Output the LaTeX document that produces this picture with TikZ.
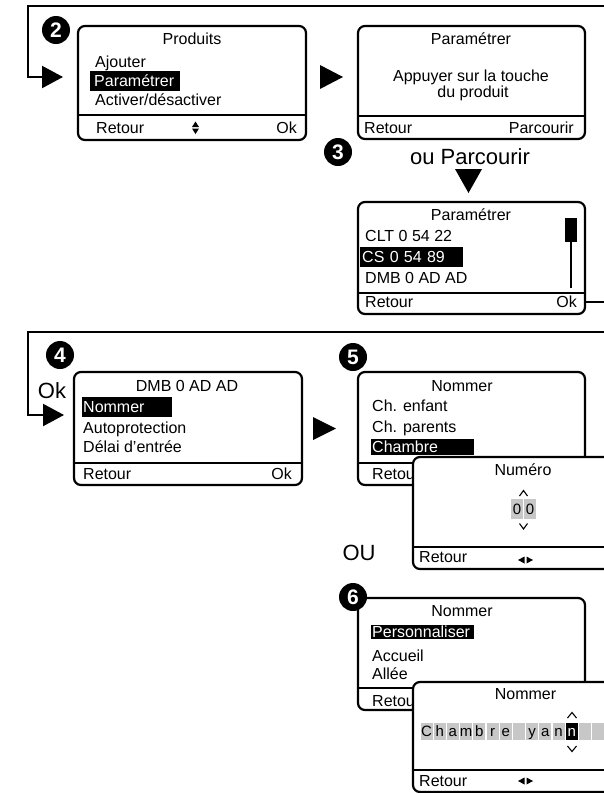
\documentclass[tikz,border=0pt]{standalone}
\usepackage{fontspec}
\setmainfont{Liberation Sans}
\usetikzlibrary{arrows.meta}
\newcommand\myfs{\fontsize{16}{19}\selectfont}
\begin{document}
\begin{tikzpicture}[x=1pt,y=-1pt,
  scr/.style={draw=black, line width=2.2pt, rounded corners=7pt, fill=white, inner sep=0pt, outer sep=0pt},
  line/.style={line width=2.2pt},
  txt/.style={inner sep=0pt, text height=11.5pt, text depth=0pt, font=\myfs},
  lt/.style={txt, anchor=west},
  rt/.style={txt, anchor=east},
  ct/.style={txt, anchor=center},
  hl/.style={txt, anchor=west, fill=black, text=white, align=left, inner ysep=4.25pt},
  badge/.style={circle, fill=black, text=white, minimum size=28pt, inner sep=0pt, font=\bfseries\fontsize{21}{21}\selectfont},
  big/.style={inner sep=0pt, text height=15.5pt, text depth=0pt, font=\fontsize{22}{24}\selectfont},
  tip/.style={-{Triangle[length=21pt,width=22pt]}},
  cell/.style={fill=black!22, minimum width=12pt, minimum height=17pt, inner sep=0pt, text height=10.8pt, text depth=0pt, font=\fontsize{15}{17}\selectfont},
  chev/.style={line width=1.1pt},
]
\useasboundingbox (0,0) rectangle (604,793);
\clip (0,0) rectangle (604,793);

% ---------- step 2 ----------
\coordinate (in2) at (612,6);
\coordinate (tip2) at (63,77);
\draw[line, tip] (in2) -| (28,77) -- (tip2);

\node[scr, minimum width=228pt, minimum height=114pt] (b1) at (192,83) {};
\draw[line] (b1.west |- 0,115) -- (b1.east |- 0,115);
\node[ct] (b1t) at (192,39) {Produits};
\node[lt] (b1a) at (95,62) {Ajouter};
\node[hl, inner xsep=4pt, text width=82pt] (b1b) at (90,81) {Paramétrer};
\node[lt] (b1c) at (95,100) {Activer/désactiver};
\node[lt] (b1r) at (96,128) {Retour};
\node[rt] (b1o) at (297,128) {Ok};
\fill (192,127) -- (195.5,121.5) -- (199,127) -- cycle;
\fill (192,128.5) -- (199,128.5) -- (195.5,134) -- cycle;

\fill (320,65) -- (343,77) -- (320,89) -- cycle;

\node[scr, minimum width=227pt, minimum height=113pt] (b2) at (471.5,82.5) {};
\draw[line] (b2.west |- 0,116) -- (b2.east |- 0,116);
\node[ct] (b2t) at (471,39) {Paramétrer};
\node[ct] (b2a) at (471,76) {Appuyer sur la touche};
\node[ct] (b2b) at (473,92) {du produit};
\node[lt] (b2r) at (364,128) {Retour};
\node[rt] (b2o) at (574,128) {Parcourir};

% ---------- step 3 ----------
\node[big] (oup) at (470,157) {ou Parcourir};
\fill (455,169) -- (482,169) -- (468.5,193) -- cycle;

\node[scr, minimum width=227pt, minimum height=112pt] (b3) at (471.5,258) {};
\draw[line] (b3.west |- 0,293) -- (b3.east |- 0,293);
\node[ct] (b3t) at (471,215) {Paramétrer};
\node[lt] (b3a) at (365,236) {CLT 0 54 22};
\node[hl, inner xsep=2pt, text width=99pt] (b3b) at (360,257) {CS 0 54 89};
\node[lt] (b3c) at (365,277.5) {DMB 0 AD AD};
\node[lt] (b3r) at (365,302) {Retour};
\node[rt] (b3o) at (577,302) {Ok};
\fill (565,218) rectangle (577,242);
\draw[line] (571,242) -- (571,288);
\coordinate (out3) at (612,302);
\draw[line] (b3.east |- 0,302) -- (out3);

% ---------- step 4 ----------
\coordinate (in4) at (612,332);
\coordinate (tip4) at (64,415);
\draw[line, tip] (in4) -| (28,415) -- (tip4);
\node[big] (okl) at (52,391) {Ok};

\node[scr, minimum width=228pt, minimum height=113pt] (b4) at (188,428.5) {};
\draw[line] (b4.west |- 0,463) -- (b4.east |- 0,463);
\node[ct] (b4t) at (187,386) {DMB 0 AD AD};
\node[hl, inner xsep=1pt, text width=88pt] (b4a) at (82,407) {Nommer};
\node[lt] (b4b) at (83,428) {Autoprotection};
\node[lt] (b4c) at (83,447) {Délai d’entrée};
\node[lt] (b4r) at (83,474) {Retour};
\node[rt] (b4o) at (292,474) {Ok};

\fill (313,417) -- (336,428.5) -- (313,440) -- cycle;

% ---------- step 5 ----------
\node[scr, minimum width=227pt, minimum height=113pt] (b5) at (471.5,428.5) {};
\draw[line] (b5.west |- 0,463) -- (b5.east |- 0,463);
\node[ct] (b5t) at (462,386) {Nommer};
\node[lt] (b5a) at (372,406) {Ch. enfant};
\node[lt] (b5b) at (372,426.5) {Ch. parents};
\node[hl, inner xsep=1pt, inner ysep=2.25pt, text width=101pt] (b5c) at (371,447) {Chambre};
\node[lt] (b5r) at (372,474) {Retour};

\node[scr, minimum width=227pt, minimum height=112pt] (b6) at (526.5,513) {};
\draw[line] (b6.west |- 0,547) -- (612,547);
\node[ct] (b6t) at (523,470) {Numéro};
\node[cell, minimum height=20pt] (n1) at (517,509) {0};
\node[cell, minimum height=20pt] (n2) at (530,509) {0};
\draw[chev] (519.5,496) -- (523.5,490.5) -- (527.5,496);
\draw[chev] (519.5,523.5) -- (523.5,529) -- (527.5,523.5);
\node[lt] (b6r) at (419,557) {Retour};
\fill (518,560) -- (524.5,556.5) -- (524.5,563.5) -- cycle;
\fill (526.5,556.5) -- (533,560) -- (526.5,563.5) -- cycle;

\node[big] (ou) at (359,553) {OU};

% ---------- step 6 ----------
\node[scr, minimum width=227pt, minimum height=112pt] (b7) at (471.5,654) {};
\draw[line] (b7.west |- 0,688) -- (b7.east |- 0,688);
\node[ct] (b7t) at (462,611) {Nommer};
\node[hl, inner xsep=1pt, inner ysep=1.5pt, text width=101pt] (b7a) at (371,632) {Personnaliser};
\node[lt] (b7b) at (372,656) {Accueil};
\node[lt] (b7c) at (372,673.5) {Allée};
\node[lt] (b7r) at (372,701) {Retour};

\node[scr, minimum width=227pt, minimum height=110pt] (b8) at (526.5,737) {};
\draw[line] (b8.west |- 0,770) -- (612,770);
\node[ct] (b8t) at (525.5,694) {Nommer};
\foreach \c [count=\i from 0] in {C,h,a,m,b,r,e,{},y,a,n} {
  \node[cell] (c\i) at (426.5+13.2*\i,731.5) {\c};
}
\node[cell, fill=black, text=white] (c11) at (571.7,731.5) {n};
\node[cell] (c12) at (584.9,731.5) {};
\node[cell] (c13) at (598.1,731.5) {};
\draw[chev] (567.5,718) -- (572,712.5) -- (576.5,718);
\draw[chev] (567.5,746) -- (572,751.5) -- (576.5,746);
\node[lt] (b8r) at (419,781) {Retour};
\fill (518,781) -- (524.5,777.5) -- (524.5,784.5) -- cycle;
\fill (526.5,777.5) -- (533,781) -- (526.5,784.5) -- cycle;

% ---------- badges ----------
\node[badge] (s2) at (56,30) {2};
\node[badge] (s3) at (338,152) {3};
\node[badge] (s4) at (60,355) {4};
\node[badge] (s5) at (353,357) {5};
\node[badge] (s6) at (353,597) {6};
\end{tikzpicture}
\end{document}
